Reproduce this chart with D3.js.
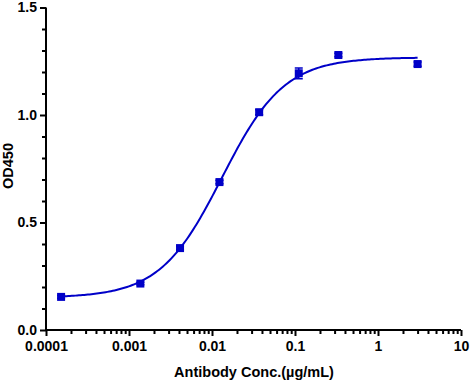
<!DOCTYPE html>
<html><head><meta charset="utf-8">
<script src="https://cdn.jsdelivr.net/npm/d3@7"></script>
<style>body{margin:0;background:#fff}svg{display:block}text{font-family:"Liberation Sans",Arial,sans-serif;}</style>
</head><body><svg id="c" width="471" height="382"></svg>
<script>
const conc = [0.000152, 0.00137, 0.00412, 0.0123, 0.037, 0.111, 0.333, 3.0];
const od   = [0.154, 0.216, 0.381, 0.688, 1.013, 1.194, 1.279, 1.237];
const err  = [0.006, 0.006, 0.008, 0.008, 0.012, 0.025, 0.008, 0.010];
const xTicks = [0.0001, 0.001, 0.01, 0.1, 1, 10];
const xTickLabels = ["0.0001", "0.001", "0.01", "0.1", "1", "10"];
const yTicks = [0, 0.5, 1.0, 1.5];
const yTickLabels = ["0.0", "0.5", "1.0", "1.5"];
// 4PL fit parameters
const fitBottom = 0.15, fitTop = 1.268, fitEC50 = 0.0132, fitHill = 1.16;

const color = "#0000C8";
const svg = d3.select("#c");
const x = d3.scaleLog().domain([0.0001, 10]).range([46, 461]);
const y = d3.scaleLinear().domain([0, 1.5]).range([330, 7.5]);

// minor ticks
const xMinor = [];
for (let e = -4; e < 1; e++) for (let m = 2; m <= 9; m++) xMinor.push(m * Math.pow(10, e));
const yMinor = d3.range(0, 1.5001, 0.1).filter(v => Math.abs(v*2 - Math.round(v*2)) > 1e-6);

const gx = svg.append("g").attr("transform", "translate(0,330)");
gx.call(d3.axisBottom(x).tickValues(xTicks).tickFormat((d,i) => xTickLabels[i]).tickSize(6).tickPadding(5));
gx.append("g").call(d3.axisBottom(x).tickValues(xMinor).tickFormat("").tickSize(4)).select(".domain").remove();
const gy = svg.append("g").attr("transform", "translate(46,0)");
gy.call(d3.axisLeft(y).tickValues(yTicks).tickFormat((d,i) => yTickLabels[i]).tickSize(6).tickPadding(3));
gy.append("g").call(d3.axisLeft(y).tickValues(yMinor).tickFormat("").tickSize(4)).select(".domain").remove();

svg.selectAll(".domain").attr("stroke", "#000").attr("stroke-width", 2);
svg.selectAll(".tick line").attr("stroke", "#000").attr("stroke-width", 2);
svg.selectAll(".tick text").attr("font-size", 14).attr("font-weight", "bold").attr("fill", "#000");
gx.selectAll(".domain").attr("d", "M46,0H461");
gy.selectAll(".domain").attr("d", "M0,330V7.5");

// axis titles
svg.append("text").attr("x", 254).attr("y", 377).attr("text-anchor", "middle")
  .attr("font-size", 14.5).attr("font-weight", "bold").text("Antibody Conc.(µg/mL)");
svg.append("text").attr("transform", "translate(13,166) rotate(-90)").attr("text-anchor", "middle")
  .attr("font-size", 14.5).attr("font-weight", "bold").text("OD450");

// fitted curve
const f = c => fitBottom + (fitTop - fitBottom) / (1 + Math.pow(fitEC50 / c, fitHill));
const lx0 = Math.log10(conc[0]), lx1 = Math.log10(conc[conc.length-1]);
const curve = d3.range(0, 201).map(i => Math.pow(10, lx0 + (lx1 - lx0) * i / 200));
svg.append("path").datum(curve).attr("fill", "none").attr("stroke", color).attr("stroke-width", 2)
  .attr("d", d3.line().x(d => x(d)).y(d => y(f(d))));

// error bars
const pts = conc.map((c, i) => ({c, v: od[i], e: err[i]}));
svg.selectAll(".eb").data(pts).enter().append("path").attr("stroke", color).attr("stroke-width", 1.5)
  .attr("fill", "none")
  .attr("d", d => `M${x(d.c)-4},${y(d.v+d.e)}H${x(d.c)+4}M${x(d.c)},${y(d.v+d.e)}V${y(d.v-d.e)}M${x(d.c)-4},${y(d.v-d.e)}H${x(d.c)+4}`);
// markers
svg.selectAll(".pt").data(pts).enter().append("rect")
  .attr("x", d => x(d.c) - 4).attr("y", d => y(d.v) - 4).attr("width", 8).attr("height", 8).attr("fill", color);
</script></body></html>
